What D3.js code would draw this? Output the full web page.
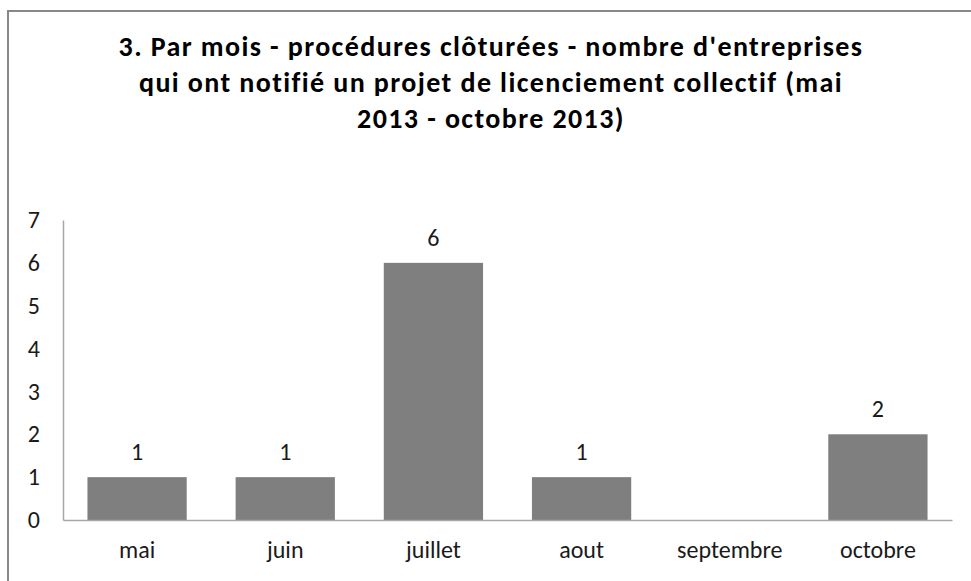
<!DOCTYPE html>
<html>
<head>
<meta charset="utf-8">
<script src="https://cdn.jsdelivr.net/npm/d3@7"></script>
<style>
  body { margin: 0; background: #fff; }
  text { font-family: Calibri, Carlito, Lato, sans-serif; fill: #1a1a1a; font-variant-ligatures: none; }
</style>
</head>
<body>
<script>
// chart data
var months = ["mai", "juin", "juillet", "aout", "septembre", "octobre"];
var counts = [1, 1, 6, 1, 0, 2];
var yTicks = [0, 1, 2, 3, 4, 5, 6, 7];
var titleLines = [
  "3. Par mois - procédures clôturées - nombre d'entreprises",
  "qui ont notifié un projet de licenciement collectif (mai",
  "2013 - octobre 2013)"
];

var W = 971, H = 581;
var margin = {top: 220, right: 19, bottom: 61, left: 63},
  width = W - margin.left - margin.right,
  height = H - margin.top - margin.bottom;

var svg = d3.select("body")
  .append("svg")
    .attr("width", W)
    .attr("height", H);

// outer chart border (runs off the right and bottom edges)
svg.append("rect")
  .attr("x", 8)
  .attr("y", 11)
  .attr("width", W)
  .attr("height", H)
  .attr("fill", "none")
  .attr("stroke", "#888")
  .attr("stroke-width", 2);

// title
svg.append("g")
  .selectAll("text")
  .data(titleLines)
  .enter()
  .append("text")
    .attr("x", 491)
    .attr("y", function(d, i) { return 56 + i * 36; })
    .attr("text-anchor", "middle")
    .attr("font-size", "28px")
    .attr("font-weight", "bold")
    .style("letter-spacing", "1.4px")
    .style("fill", "#000")
    .text(function(d) { return d; });

var g = svg.append("g")
  .attr("transform", "translate(" + margin.left + "," + margin.top + ")");

var x = d3.scaleBand()
  .domain(months)
  .range([0, width])
  .paddingInner(0.33)
  .paddingOuter(0.165);

var y = d3.scaleLinear()
  .domain([0, 7])
  .range([height, 0]);

// y axis labels (no tick marks)
var yAxis = g.append("g")
  .call(d3.axisLeft(y).tickValues(yTicks).tickFormat(d3.format("d")).tickSize(0).tickPadding(23));
yAxis.select(".domain").attr("stroke", "#a6a6a6").attr("stroke-width", 1.5);
yAxis.selectAll("text")
  .attr("font-size", "24px")
  .attr("font-family", null)
  .attr("fill", "#1a1a1a");

// bars
g.selectAll("rect.bar")
  .data(months)
  .enter()
  .append("rect")
    .attr("class", "bar")
    .attr("x", function(d) { return x(d); })
    .attr("y", function(d, i) { return y(counts[i]); })
    .attr("width", x.bandwidth())
    .attr("height", function(d, i) { return height - y(counts[i]); })
    .attr("fill", "#7f7f7f");

// x axis line & labels
var xAxis = g.append("g")
  .attr("transform", "translate(0," + height + ")")
  .call(d3.axisBottom(x).tickSize(0).tickPadding(21));
xAxis.select(".domain").attr("stroke", "#a6a6a6").attr("stroke-width", 1.5);
xAxis.selectAll("text")
  .attr("font-size", "24px")
  .attr("font-family", null)
  .attr("fill", "#1a1a1a");

// value labels (skip zero)
g.selectAll("text.value")
  .data(months.filter(function(d, i) { return counts[i] > 0; }))
  .enter()
  .append("text")
    .attr("class", "value")
    .attr("x", function(d) { return x(d) + x.bandwidth() / 2; })
    .attr("y", function(d) { return y(counts[months.indexOf(d)]) - 17; })
    .attr("text-anchor", "middle")
    .attr("font-size", "24px")
    .text(function(d) { return counts[months.indexOf(d)]; });
</script>
</body>
</html>
